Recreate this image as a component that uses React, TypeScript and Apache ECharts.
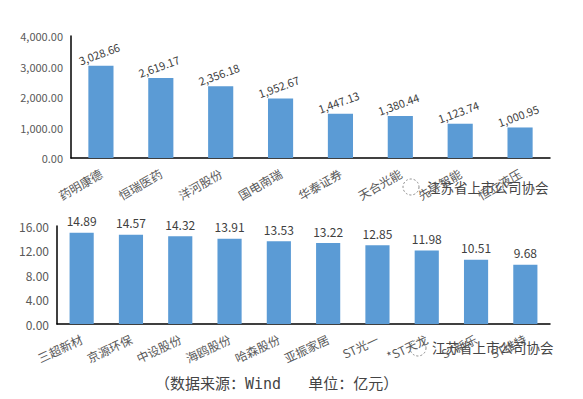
import React, { useEffect, useRef } from "react";
import * as echarts from "echarts";

const topCategories = ["药明康德", "恒瑞医药", "洋河股份", "国电南瑞", "华泰证券", "天合光能", "先导智能", "恒立液压"];
const topValues = [3028.66, 2619.17, 2356.18, 1952.67, 1447.13, 1380.44, 1123.74, 1000.95];
const bottomCategories = ["三超新材", "京源环保", "中设股份", "海鸥股份", "哈森股份", "亚振家居", "ST光一", "*ST天龙", "ST新乐", "ST维特"];
const bottomValues = [14.89, 14.57, 14.32, 13.91, 13.53, 13.22, 12.85, 11.98, 10.51, 9.68];
const footerText = "（数据来源：Wind   单位：亿元）";
const watermarkText = "江苏省上市公司协会";

function fmt(v: number): string {
  const parts = v.toFixed(2).split(".");
  parts[0] = parts[0].replace(/\B(?=(\d{3})+(?!\d))/g, ",");
  return parts.join(".");
}

const FONT = "'Noto Sans CJK SC', 'Noto Sans', sans-serif";
const BAR = "#5b9bd5";

export default function App() {
  const ref = useRef<HTMLDivElement>(null);
  useEffect(() => {
    if (!ref.current) return;
    document.body.style.margin = "0";
    const chart = echarts.init(ref.current, null, { renderer: "svg" });
    const axisLine = { show: true, lineStyle: { color: "#000", width: 1.5 } };
    chart.setOption({
      animation: false,
      backgroundColor: "#fff",
      textStyle: { fontFamily: FONT },
      grid: [
        { left: 71, right: 33, top: 36, bottom: 241 },
        { left: 57, right: 33, top: 226, bottom: 75 },
      ],
      xAxis: [
        {
          type: "category", gridIndex: 0, data: topCategories,
          axisLine, axisTick: { show: false },
          axisLabel: { rotate: 30, color: "#595959", fontSize: 12, margin: 14, fontFamily: FONT },
        },
        {
          type: "category", gridIndex: 1, data: bottomCategories,
          axisLine, axisTick: { show: false },
          axisLabel: { rotate: 25, color: "#595959", fontSize: 12, margin: 14, fontFamily: FONT },
        },
      ],
      yAxis: [
        {
          type: "value", gridIndex: 0, min: 0, max: 4000, interval: 1000,
          axisLine, axisTick: { show: false }, splitLine: { show: false },
          axisLabel: { color: "#595959", fontSize: 11, margin: 8, formatter: (v: number) => fmt(v) },
        },
        {
          type: "value", gridIndex: 1, min: 0, max: 16, interval: 4,
          axisLine, axisTick: { show: false }, splitLine: { show: false },
          axisLabel: { color: "#595959", fontSize: 12, margin: 8, formatter: (v: number) => v.toFixed(2) },
        },
      ],
      series: [
        {
          type: "bar", xAxisIndex: 0, yAxisIndex: 0, data: topValues, barWidth: "42%",
          itemStyle: { color: BAR },
          label: {
            show: true, position: "top", rotate: 20, distance: 7, color: "#404040", fontSize: 11,
            formatter: (p: any) => fmt(p.value),
          },
        },
        {
          type: "bar", xAxisIndex: 1, yAxisIndex: 1, data: bottomValues, barWidth: "49%",
          itemStyle: { color: BAR },
          label: {
            show: true, position: "top", distance: 6, color: "#404040", fontSize: 12,
            formatter: (p: any) => p.value.toFixed(2),
          },
        },
      ],
      graphic: [
        { type: "circle", shape: { cx: 411, cy: 187, r: 8 }, style: { fill: "rgba(255,255,255,0.7)", stroke: "#888", lineWidth: 1, lineDash: [2, 2] } },
        { type: "text", left: 427, top: 180, style: { text: watermarkText, fill: "#444", fontSize: 13.5, fontFamily: FONT } },
        { type: "circle", shape: { cx: 418, cy: 348, r: 8 }, style: { fill: "rgba(255,255,255,0.7)", stroke: "#888", lineWidth: 1, lineDash: [2, 2] } },
        { type: "text", left: 432, top: 340, style: { text: watermarkText, fill: "#444", fontSize: 13.5, fontFamily: FONT } },
        { type: "text", left: 155, top: 376, style: { text: footerText, fill: "#444", fontSize: 15, fontFamily: "'DejaVu Sans Mono', 'Noto Sans CJK SC', monospace" } },
      ],
    });
    return () => chart.dispose();
  }, []);
  return <div ref={ref} style={{ width: 583, height: 399 }} />;
}
